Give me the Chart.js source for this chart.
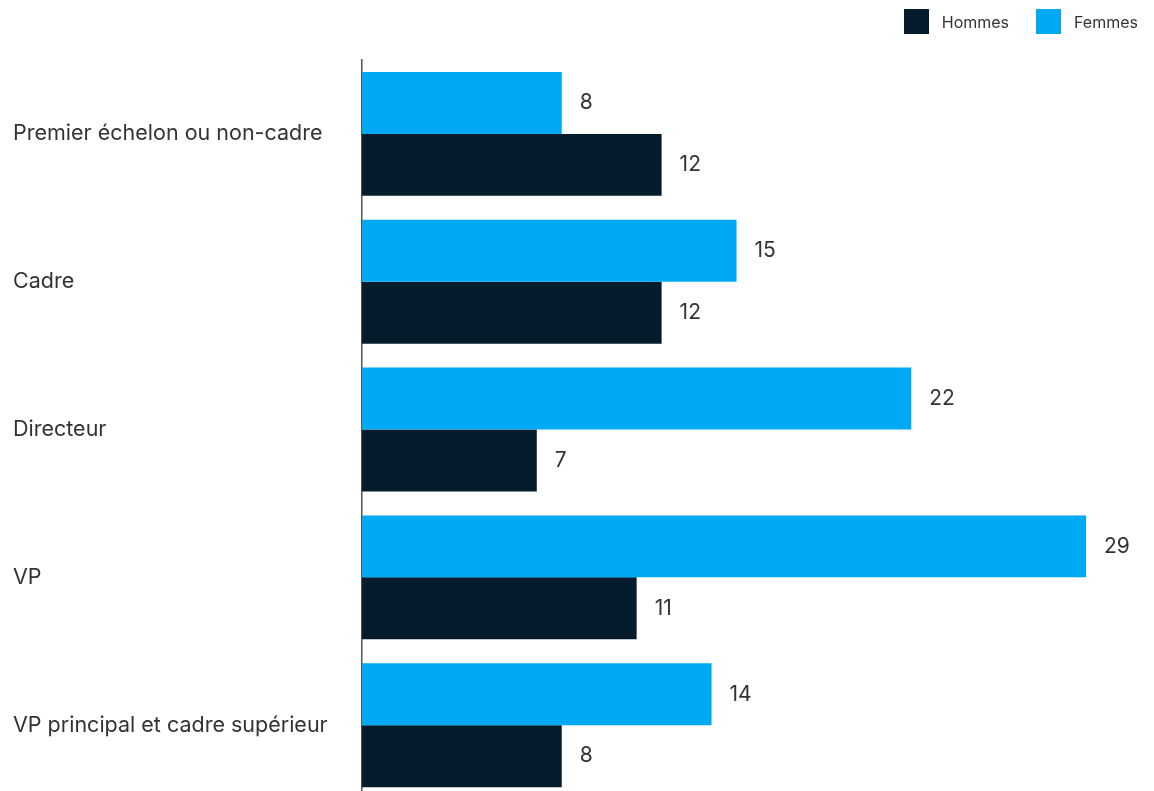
<!DOCTYPE html>
<html lang="fr">
<head>
    <meta charset="UTF-8">
    <title>Hommes et femmes par niveau</title>
    <script src="https://cdn.jsdelivr.net/npm/chart.js"></script>
    <style>
        html, body {
            margin: 0;
            padding: 0;
            background: #fff;
            overflow: hidden;
        }
        .wrap {
            position: relative;
            width: 1154px;
            height: 815px;
        }
        /* Legend sits in the top right corner */
        #legend {
            position: absolute;
            top: 9px;
            right: 16px;
            display: flex;
            font-family: Inter, "Liberation Sans", sans-serif;
            font-size: 16px;
            color: #333;
        }
        #legend .item {
            display: flex;
            align-items: center;
            margin-left: 27px;
        }
        #legend .box {
            width: 25px;
            height: 25px;
            margin-right: 13px;
        }
    </style>
</head>
<body>
    <div class="wrap">
        <div id="legend"></div>
        <canvas id="chart" width="1154" height="815"></canvas>
    </div>

    <script>
        // Categories and values (percent)
        const levels = [
            'Premier échelon ou non-cadre',
            'Cadre',
            'Directeur',
            'VP',
            'VP principal et cadre supérieur'
        ];
        const femmes = [8, 15, 22, 29, 14];
        const hommes = [12, 12, 7, 11, 8];

        const textColor = '#333333';
        const fontFamily = 'Inter, "Liberation Sans", sans-serif';

        // Writes the value just past the end of each bar
        const valueLabels = {
            id: 'valueLabels',
            afterDatasetsDraw(chart) {
                const ctx = chart.ctx;
                ctx.save();
                ctx.font = '21px ' + fontFamily;
                ctx.fillStyle = textColor;
                ctx.textAlign = 'left';
                ctx.textBaseline = 'middle';
                chart.data.datasets.forEach((ds, i) => {
                    chart.getDatasetMeta(i).data.forEach((bar, j) => {
                        ctx.fillText(ds.data[j], bar.x + 18, bar.y);
                    });
                });
                ctx.restore();
            }
        };

        const chart = new Chart(document.getElementById('chart'), {
            type: 'bar',
            data: {
                labels: levels,
                datasets: [
                    {
                        label: 'Femmes',
                        data: femmes,
                        backgroundColor: '#00A9F4'
                    },
                    {
                        label: 'Hommes',
                        data: hommes,
                        backgroundColor: '#051C2C'
                    }
                ]
            },
            options: {
                indexAxis: 'y',
                responsive: false,
                animation: false,
                categoryPercentage: 0.838,
                barPercentage: 1,
                layout: {
                    padding: { left: 13, top: 60, right: 18, bottom: 0 }
                },
                plugins: {
                    legend: { display: false },
                    tooltip: { enabled: false }
                },
                scales: {
                    x: {
                        display: false,
                        min: 0,
                        max: 31
                    },
                    y: {
                        grid: { display: false },
                        border: { display: true, color: '#555555', width: 1.5 },
                        ticks: {
                            crossAlign: 'far',
                            color: textColor,
                            font: { family: fontFamily, size: 21.5 }
                        },
                        afterFit(scale) {
                            scale.width = 349;
                        }
                    }
                }
            },
            plugins: [valueLabels]
        });

        // HTML legend, Hommes listed first
        const legend = document.getElementById('legend');
        chart.data.datasets.slice().reverse().forEach(ds => {
            const item = document.createElement('div');
            item.className = 'item';
            const box = document.createElement('span');
            box.className = 'box';
            box.style.background = ds.backgroundColor;
            const text = document.createElement('span');
            text.textContent = ds.label;
            item.appendChild(box);
            item.appendChild(text);
            legend.appendChild(item);
        });
    </script>
</body>
</html>
